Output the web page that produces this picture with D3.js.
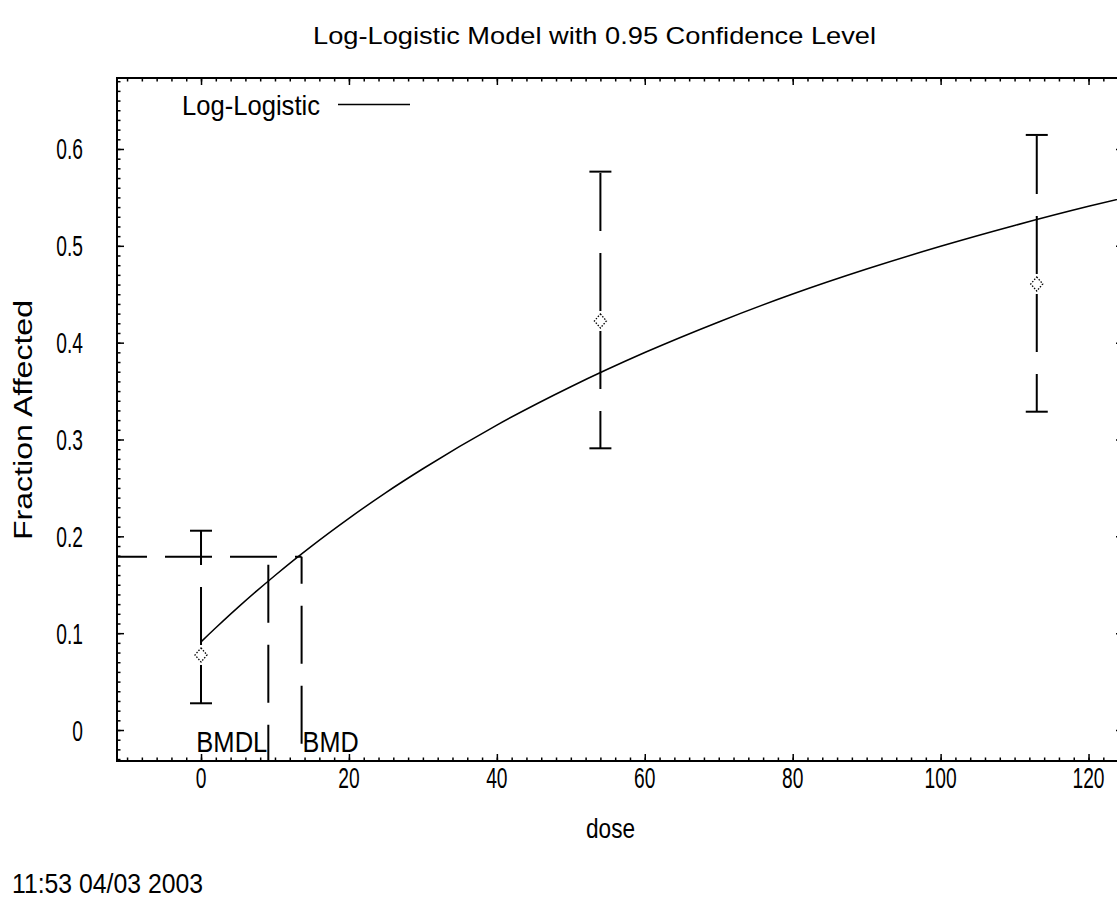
<!DOCTYPE html>
<html>
<head>
<meta charset="utf-8">
<script src="https://cdn.jsdelivr.net/npm/d3@7"></script>
<style>
html,body{margin:0;padding:0;background:#fff;}
svg{display:block;}
text{font-family:"Liberation Sans Narrow","Liberation Sans",Arial,sans-serif;fill:#000;}
</style>
</head>
<body>
<svg id="chart" width="1117" height="909"></svg>
<script>
// ---- data ----
const doses    = [0, 54, 113];
const observed = [0.0775, 0.4224, 0.4606];
const lowerCI  = [0.0276, 0.2909, 0.3287];
const upperCI  = [0.2058, 0.5766, 0.6145];

const fitDose = [0, 1, 2, 3, 5, 7.5, 10, 12.5, 15, 20, 25, 30, 40, 50, 60, 70, 80, 90, 100, 110, 120, 125];
const fitFrac = [0.091, 0.0984, 0.1056, 0.1127, 0.1266, 0.1434, 0.1596, 0.1752, 0.1902, 0.2186, 0.2452, 0.2698,
                 0.3149, 0.3545, 0.3898, 0.4214, 0.4502, 0.4760, 0.4995, 0.5210, 0.5408, 0.550];

const bmdDose  = 13.6;
const bmdlDose = 9.1;
const bmrLevel = 0.179;

const xTicks = [0, 20, 40, 60, 80, 100, 120];
const xTickLabels = ["0", "20", "40", "60", "80", "100", "120"];
const yTicks = [0, 0.1, 0.2, 0.3, 0.4, 0.5, 0.6];
const yTickLabels = ["0", "0.1", "0.2", "0.3", "0.4", "0.5", "0.6"];

const titleText = "Log-Logistic Model with 0.95 Confidence Level";
const legendText = "Log-Logistic";
const xLabel = "dose";
const yLabel = "Fraction Affected";
const stamp = "11:53 04/03 2003";

// ---- layout ----
const L = 117, R = 1123, T = 78, B = 761;
const NARROW = 0.64;
const svg = d3.select("#chart");
const x = d3.scaleLinear().domain([-11.36, 124.66]).range([L, R]);
const y = d3.scaleLinear().domain([-0.032, 0.6733]).range([B, T]);

svg.append("rect").attr("width", 1117).attr("height", 909).attr("fill", "#fff");

const xMinor = d3.range(-10, 125, 2);
const yMinor = d3.range(-3, 68, 1).map(v => v / 100);

// ticks (inward on all four sides)
function ticks(gen, tr, vals, size) {
  const g = svg.append("g").attr("transform", tr).call(gen.tickValues(vals).tickSize(size).tickFormat(""));
  g.select(".domain").remove();
  g.selectAll("line").attr("stroke", "#000").attr("stroke-width", 1.5);
  return g;
}
ticks(d3.axisBottom(x), `translate(0,${B})`, xMinor, -3.5);
ticks(d3.axisBottom(x), `translate(0,${B})`, xTicks, -7);
ticks(d3.axisTop(x), `translate(0,${T})`, xMinor, -3.5);
ticks(d3.axisTop(x), `translate(0,${T})`, xTicks, -7);
ticks(d3.axisLeft(y), `translate(${L},0)`, yMinor, -3.5);
ticks(d3.axisLeft(y), `translate(${L},0)`, yTicks, -7);
ticks(d3.axisRight(y), `translate(${R},0)`, yMinor, -3.5);
ticks(d3.axisRight(y), `translate(${R},0)`, yTicks, -7);

// frame
svg.append("rect").attr("x", L).attr("y", T).attr("width", R - L).attr("height", B - T)
  .attr("fill", "none").attr("stroke", "#000").attr("stroke-width", 2);

// narrow text helper
function ntext(px, py, str, size, anchor, sx) {
  return svg.append("text")
    .attr("transform", `translate(${px},${py}) scale(${sx || NARROW},1)`)
    .attr("text-anchor", anchor || "start").attr("font-size", size).text(str);
}

// tick labels
xTicks.forEach((d, i) => ntext(x(d), 788, xTickLabels[i], 30, "middle"));
yTicks.forEach((d, i) => ntext(83, y(d) + 10.5, yTickLabels[i], 30, "end"));

// titles
svg.append("text").attr("x", 313).attr("y", 44).attr("font-size", 24)
  .attr("textLength", 563).attr("lengthAdjust", "spacingAndGlyphs").text(titleText);
svg.append("text").attr("x", 586).attr("y", 838).attr("font-size", 27)
  .attr("textLength", 49).attr("lengthAdjust", "spacingAndGlyphs").text(xLabel);
svg.append("text").attr("transform", "translate(32,540) rotate(-90)").attr("font-size", 26)
  .attr("textLength", 240).attr("lengthAdjust", "spacingAndGlyphs").text(yLabel);
svg.append("text").attr("x", 12).attr("y", 893).attr("font-size", 27)
  .attr("textLength", 191).attr("lengthAdjust", "spacingAndGlyphs").text(stamp);

// legend
svg.append("text").attr("x", 182).attr("y", 115).attr("font-size", 28)
  .attr("textLength", 138).attr("lengthAdjust", "spacingAndGlyphs").text(legendText);
svg.append("line").attr("x1", 338).attr("x2", 410).attr("y1", 104.5).attr("y2", 104.5)
  .attr("stroke", "#000").attr("stroke-width", 1.5);

// clip
svg.append("clipPath").attr("id", "plotclip").append("rect")
  .attr("x", L).attr("y", T).attr("width", R - L).attr("height", B - T);
const plot = svg.append("g").attr("clip-path", "url(#plotclip)");

// BMD / BMDL dashed guides
plot.append("line").attr("x1", x(-11.36)).attr("x2", x(bmdDose))
  .attr("y1", y(bmrLevel)).attr("y2", y(bmrLevel))
  .attr("stroke", "#000").attr("stroke-width", 2)
  .attr("stroke-dasharray", "47,18").attr("stroke-dashoffset", 17);
plot.append("line").attr("x1", x(bmdlDose)).attr("x2", x(bmdlDose))
  .attr("y1", y(bmrLevel)).attr("y2", B)
  .attr("stroke", "#000").attr("stroke-width", 2)
  .attr("stroke-dasharray", "58,22").attr("stroke-dashoffset", 72);
plot.append("line").attr("x1", x(bmdDose)).attr("x2", x(bmdDose))
  .attr("y1", y(bmrLevel)).attr("y2", B)
  .attr("stroke", "#000").attr("stroke-width", 2)
  .attr("stroke-dasharray", "58,22").attr("stroke-dashoffset", 31);

// fitted curve
plot.append("path").datum(fitDose.map((d, i) => [d, fitFrac[i]]))
  .attr("d", d3.line().x(d => x(d[0])).y(d => y(d[1])).curve(d3.curveMonotoneX))
  .attr("fill", "none").attr("stroke", "#000").attr("stroke-width", 1.5);

// error bars (dashed from the point outward) and caps
doses.forEach((d, i) => {
  [upperCI[i], lowerCI[i]].forEach(lim => {
    plot.append("line").attr("x1", x(d)).attr("x2", x(d))
      .attr("y1", y(observed[i])).attr("y2", y(lim))
      .attr("stroke", "#000").attr("stroke-width", 2)
      .attr("stroke-dasharray", "58,22").attr("stroke-dashoffset", 70);
    plot.append("line").attr("x1", x(d) - 11).attr("x2", x(d) + 11)
      .attr("y1", y(lim)).attr("y2", y(lim))
      .attr("stroke", "#000").attr("stroke-width", 2);
  });
});

// observed markers: small dotted diamonds
plot.append("g").selectAll("path").data(doses).join("path")
  .attr("transform", (d, i) => `translate(${x(d)},${y(observed[i])})`)
  .attr("d", "M0,-7L6,0L0,7L-6,0Z")
  .attr("fill", "none").attr("stroke", "#000").attr("stroke-width", 1.3)
  .attr("stroke-dasharray", "1.5,1.5");

// BMD labels
svg.append("text").attr("x", x(bmdlDose) - 72).attr("y", 752)
  .attr("font-size", 29).attr("textLength", 71).attr("lengthAdjust", "spacingAndGlyphs").text("BMDL");
svg.append("text").attr("x", x(bmdDose) + 1).attr("y", 752)
  .attr("font-size", 29).attr("textLength", 56).attr("lengthAdjust", "spacingAndGlyphs").text("BMD");
</script>
</body>
</html>
